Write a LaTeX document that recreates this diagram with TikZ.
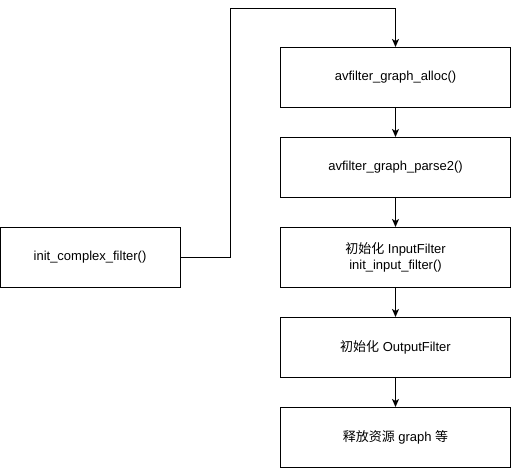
\documentclass[tikz,border=0pt]{standalone}
\usepackage{fontspec}
\setmainfont{Liberation Sans}
\newfontfamily\cjk{Noto Sans CJK SC}
\usetikzlibrary{arrows.meta}
\begin{document}
\begin{tikzpicture}[x=1pt,y=-1pt,
  box/.style={draw=black,line width=1pt,minimum width=230pt,minimum height=60pt,inner sep=0pt,align=center,font=\fontsize{13}{16}\selectfont},
  conn/.style={draw=black,line width=1pt,-{Stealth[length=8pt,width=7pt,inset=2pt]}}]
\useasboundingbox (0,0) rectangle (511,468);
\fill[white] (0,0) rectangle (511,468);
\node[box,minimum width=180pt] (ic) at (90,257.5) {init\_complex\_filter()};
\node[box] (b1) at (395.5,77.5) {avfilter\_graph\_alloc()};
\node[box] (b2) at (395.5,167.5) {avfilter\_graph\_parse2()};
\node[box] (b3) at (395.5,257.5) {{\cjk 初始化} InputFilter\\init\_input\_filter()};
\node[box] (b4) at (395.5,347.5) {{\cjk 初始化} OutputFilter};
\node[box] (b5) at (395.5,437.5) {{\cjk 释放资源} graph {\cjk 等}};
\coordinate (c1) at (230.5,257.5);
\coordinate (c2) at (230.5,8.5);
\coordinate (c3) at (395.5,8.5);
\draw[conn] (ic.east) -- (c1) -- (c2) -- (c3) -- (b1.north);
\draw[conn] (b1) -- (b2);
\draw[conn] (b2) -- (b3);
\draw[conn] (b3) -- (b4);
\draw[conn] (b4) -- (b5);
\end{tikzpicture}
\end{document}
